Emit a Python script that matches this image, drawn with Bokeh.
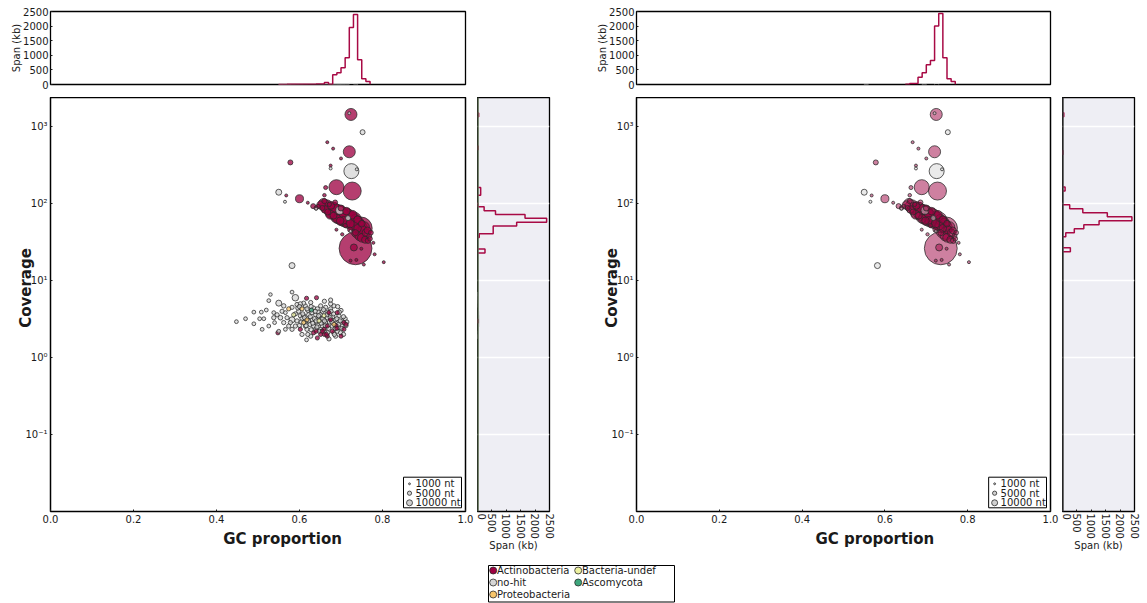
import math
import numpy as np
from bokeh.plotting import figure
from bokeh.layouts import row, column
from bokeh.models import (Range1d, FixedTicker, CustomJSTickFormatter, NumeralTickFormatter,
                          ColumnDataSource, Span, Title)
from bokeh.core.properties import value
from bokeh.embed import file_html
from bokeh.resources import INLINE

FONT = "DejaVu Sans"
TXT = "#1a1a1a"

# ---------------------------------------------------------------- data
# high-coverage contigs (both panels)
actino_gc = [0.724, 0.667, 0.681, 0.720, 0.700, 0.578, 0.675, 0.689, 0.727, 0.663, 0.660, 0.568, 0.600,
             0.620, 0.633, 0.735, 0.731, 0.723, 0.737, 0.749, 0.778, 0.781, 0.803, 0.755, 0.703, 0.689, 0.748,
             0.652, 0.655, 0.658, 0.662, 0.665, 0.668, 0.671, 0.674, 0.676, 0.679, 0.682, 0.684, 0.687, 0.690,
             0.692, 0.695, 0.698, 0.700, 0.703, 0.706, 0.708, 0.711, 0.714, 0.716, 0.719, 0.722, 0.725, 0.728,
             0.731, 0.734, 0.737, 0.740, 0.743, 0.746, 0.752, 0.756, 0.760, 0.764, 0.768, 0.772, 0.660, 0.672,
             0.645, 0.640, 0.713, 0.700, 0.686, 0.735, 0.722, 0.710, 0.750, 0.758, 0.745, 0.765, 0.770,
             0.728, 0.740, 0.750]
actino_cov = [1445, 630, 520, 473, 387, 344, 313, 164, 146, 162, 129, 128, 116,
              103, 93, 26.3, 27, 18.2, 18.6, 26, 31, 22, 17.4, 16.2, 40, 46, 48,
              96, 88, 100, 84, 92, 78, 88, 72, 95, 82, 70, 90, 76, 64,
              84, 72, 60, 78, 66, 60, 72, 66, 58, 70, 62, 55, 66, 60,
              52, 62, 54, 48, 56, 50, 46, 50, 42, 45, 38, 42, 108, 98,
              92, 88, 80, 88, 104, 42, 46, 52, 36, 34, 38, 33, 35,
              72, 62, 55]
actino_len = [40000, 2500, 2500, 40000, 2500, 7000, 2500, 62500, 90000, 4500, 3400, 2500, 17800,
              2500, 7000, 300000, 13600, 2500, 2500, 2500, 2500, 2500, 2500, 2500, 3000, 2500, 140000,
              20000, 7000, 30000, 16000, 50000, 10000, 38000, 22000, 16000, 75000, 13000, 25000, 62000, 18000,
              30000, 95000, 16000, 45000, 75000, 20000, 30000, 100000, 25000, 50000, 85000, 18000, 38000, 95000,
              22000, 30000, 75000, 16000, 25000, 50000, 20000, 30000, 16000, 13000, 7000, 6500, 7000, 5000,
              5000, 5000, 16000, 10000, 6500, 10000, 7000, 5000, 20000, 14000, 25000, 8000, 6000,
              20000, 16000, 12000]

nohit_gc = [0.720, 0.752, 0.675, 0.725, 0.738, 0.550, 0.565, 0.640, 0.697, 0.717, 0.723, 0.582]
nohit_cov = [1500, 850, 287, 265, 280, 141, 106, 86, 82, 65, 44, 15.7]
nohit_len = [2500, 7000, 2500, 62500, 2500, 10000, 2500, 2500, 17800, 7000, 2500, 10000]

# low-coverage cloud (left panel only)
cloud_nohit_gc = [0.448, 0.470, 0.490, 0.490, 0.504, 0.514, 0.508, 0.520, 0.526, 0.530, 0.510, 0.526, 0.538,
                  0.550, 0.540, 0.550, 0.566, 0.582, 0.590, 0.617, 0.660, 0.566, 0.562, 0.582, 0.594, 0.602,
                  0.627, 0.651, 0.675, 0.703, 0.683, 0.643, 0.594, 0.578, 0.570, 0.554, 0.582, 0.618, 0.691,
                  0.695, 0.639, 0.622, 0.614, 0.598, 0.634, 0.655, 0.683, 0.630, 0.663, 0.679, 0.695, 0.687,
                  0.671, 0.627, 0.606, 0.590, 0.574, 0.562, 0.558, 0.546, 0.538, 0.610, 0.639, 0.651, 0.691,
                  0.699, 0.703, 0.687, 0.667, 0.647, 0.630, 0.620, 0.643, 0.663, 0.675, 0.610, 0.590, 0.655,
                  0.634, 0.614, 0.600, 0.655, 0.710, 0.700, 0.692, 0.675, 0.582, 0.602, 0.618, 0.645, 0.668,
                  0.680, 0.660, 0.640, 0.625, 0.606, 0.596, 0.672, 0.650, 0.628,
                  0.604, 0.612, 0.616, 0.622, 0.626, 0.632, 0.636, 0.642, 0.646, 0.652, 0.656, 0.662, 0.666,
                  0.670, 0.674, 0.678, 0.682, 0.686, 0.690, 0.694, 0.698, 0.702, 0.706, 0.712, 0.608, 0.618,
                  0.628, 0.638, 0.648, 0.658, 0.668, 0.676, 0.684, 0.696, 0.706, 0.714, 0.600, 0.620, 0.640,
                  0.660]
cloud_nohit_cov = [2.93, 3.2, 3.9, 2.75, 3.2, 3.2, 3.9, 4.15, 5.5, 6.6, 2.33, 2.57, 3.84,
                   5.1, 2.85, 2.2, 2.33, 7.1, 6.0, 1.7, 5.4, 3.84, 4.7, 4.5, 4.9, 3.5,
                   5.2, 4.7, 4.3, 3.0, 2.1, 2.7, 3.0, 2.85, 3.3, 3.3, 2.33, 2.33, 2.85,
                   3.5, 3.6, 3.6, 4.7, 4.0, 4.4, 4.0, 4.7, 3.1, 2.85, 2.57, 2.45, 1.9,
                   1.75, 1.9, 2.0, 2.57, 2.57, 2.85, 4.0, 3.6, 3.3, 3.5, 2.33, 2.33, 2.2,
                   2.1, 2.57, 3.1, 3.3, 3.4, 3.84, 4.1, 4.3, 4.5, 5.0, 5.1, 3.7, 2.57,
                   2.57, 2.57, 2.62, 3.0, 3.2, 4.1, 4.6, 5.6, 3.1, 5.0, 3.0, 3.9, 3.9,
                   3.4, 2.2, 2.9, 2.7, 3.2, 4.4, 2.9, 3.6, 4.6,
                   2.9, 3.3, 2.6, 3.0, 3.4, 2.8, 3.2, 2.5, 3.5, 2.8, 3.2, 2.6, 3.6,
                   2.4, 3.3, 2.9, 3.7, 2.4, 3.2, 2.7, 3.0, 2.4, 3.4, 2.6, 3.7, 4.3,
                   2.3, 4.0, 2.2, 4.2, 2.1, 4.0, 2.0, 3.9, 2.0, 2.9, 4.6, 2.0, 3.0,
                   3.0]
cloud_nohit_len = [4000, 4000, 4000, 4000, 4000, 4000, 4000, 4000, 4000, 3500, 4000, 4000, 4000,
                   10000, 4000, 4000, 4000, 4000, 12000, 4000, 5000, 4000, 5500, 5000, 5000, 5000,
                   5000, 5000, 5000, 5000, 5000, 5000, 5000, 5000, 5000, 6000, 5000, 5000, 5000,
                   5000, 5000, 5000, 5000, 5000, 5000, 5000, 5000, 5000, 5000, 5000, 5000, 5000,
                   5000, 5000, 5000, 5000, 5000, 5000, 5000, 5000, 5000, 5000, 5000, 5000, 5000,
                   5000, 5000, 5000, 5000, 5000, 5000, 5000, 5000, 5000, 5000, 5000, 5000, 5000,
                   5000, 5000, 5000, 5000, 5000, 5000, 5000, 5000, 10000, 5000, 5000, 5000, 5000,
                   5000, 5000, 5000, 5000, 5000, 5000, 5000, 5000, 5000,
                   5000, 5000, 5000, 5000, 5000, 5000, 5000, 5000, 5000, 5000, 5000, 5000, 5000,
                   5000, 5000, 5000, 5000, 5000, 5000, 5000, 5000, 5000, 5000, 5000, 5000, 5000,
                   5000, 5000, 5000, 5000, 5000, 5000, 5000, 5000, 5000, 5000, 5000, 5000, 5000,
                   5000]

cloud_actino_gc = [0.617, 0.641, 0.691, 0.707, 0.667, 0.651, 0.634, 0.602, 0.667, 0.675, 0.671, 0.643,
                   0.548, 0.659, 0.679, 0.707, 0.688, 0.660, 0.665, 0.690, 0.700, 0.640, 0.712, 0.655]
cloud_actino_cov = [5.9, 6.0, 3.84, 2.33, 1.9, 2.0, 2.1, 2.33, 2.57, 3.1, 3.84, 1.8,
                    2.1, 2.33, 2.2, 2.85, 2.6, 2.0, 2.0, 2.4, 1.9, 2.2, 2.7, 2.2]
cloud_actino_len = [4800] * 24

cloud_proteo_gc = [0.574, 0.606, 0.610, 0.618, 0.683]
cloud_proteo_cov = [4.3, 4.3, 2.85, 3.1, 2.7]
cloud_proteo_len = [4800] * 5

cloud_bundef_gc = [0.659, 0.647, 0.586]
cloud_bundef_cov = [3.5, 3.0, 3.6]
cloud_bundef_len = [4800] * 3

cloud_asco_gc = [0.629]
cloud_asco_cov = [4.15]
cloud_asco_len = [4800]

# GC histograms (bin width 0.01, span in kb)
GC_BIN = 0.01
topL_act_gc = [0.55, 0.56, 0.57, 0.58, 0.59, 0.60, 0.61, 0.62, 0.63, 0.64, 0.65, 0.66, 0.67, 0.68,
               0.69, 0.70, 0.71, 0.72, 0.73, 0.74, 0.75, 0.76]
topL_act_span = [4, 4, 5, 8, 6, 10, 8, 10, 12, 14, 15, 70, 12, 330, 400, 570, 920, 1950, 2400, 850, 200, 100]
topL_nohit_gc = [0.55, 0.56, 0.57, 0.58, 0.59, 0.60, 0.61, 0.62, 0.63, 0.64, 0.65, 0.66, 0.67, 0.68,
                 0.69, 0.70, 0.71, 0.72, 0.73]
topL_nohit_span = [8, 10, 12, 15, 18, 20, 22, 25, 25, 22, 20, 18, 15, 10, 8, 10, 12, 40, 15]
topR_act_gc = [0.65, 0.66, 0.67, 0.68, 0.69, 0.70, 0.71, 0.72, 0.73, 0.74, 0.75, 0.76]
topR_act_span = [10, 30, 30, 250, 400, 680, 820, 2000, 2430, 920, 200, 100]
topR_nohit_gc = [0.55, 0.69, 0.72]
topR_nohit_span = [10, 15, 40]

# coverage histograms (log10 bins, span in kb)
sideL_bin = 0.05
sideL_act_lo = [0.45, 1.36, 1.56, 1.61, 1.66, 1.71, 1.76, 1.81, 1.86, 1.91, 1.96, 2.11, 2.16, 2.70, 3.13]
sideL_act_span = [15, 260, 60, 545, 545, 1360, 2400, 1650, 625, 230, 10, 110, 110, 20, 40]
sideL_nohit_lo = [0.25, 0.30, 0.35, 0.40, 0.45, 0.50, 0.55, 0.60, 0.65, 0.70, 0.75, 0.80]
sideL_nohit_span = [15, 25, 35, 50, 60, 55, 45, 35, 25, 20, 15, 10]
sideR_bin = 0.052
sideR_act_lo = [1.375, 1.570, 1.622, 1.674, 1.726, 1.778, 1.830, 1.882, 1.934, 2.165, 2.640, 3.130]
sideR_act_span = [273, 114, 410, 740, 1270, 2410, 1556, 705, 250, 90, 15, 45]

size_legend_nt = [1000, 5000, 10000]
size_legend_labels = ["1000 nt", "5000 nt", "10000 nt"]

taxa = ["Actinobacteria", "no-hit", "Proteobacteria", "Bacteria-undef", "Ascomycota"]
taxa_colors = ["#9E0142", "#D6D6D6", "#F8C56A", "#EEF2A0", "#3DA67C"]

DECADES = [0.1, 1, 10, 100, 1000]
Y_MIN, Y_MAX = 0.01, 2400
ACT_LINE = "#A80A45"
FRAME_W, FRAME_H = 415.0, 414.0


# ---------------------------------------------------------------- helpers
def diam(lengths):
    return 0.06 * np.sqrt(np.asarray(lengths, dtype=float))


def step_runs(lo, vals, w):
    """contiguous bins -> closed step outlines"""
    groups, cur, prev = [], None, None
    for l, v in sorted(zip(lo, vals)):
        if cur is None or abs(l - prev) > 1e-6:
            if cur:
                groups.append(cur)
            cur = []
        cur.append((l, l + w, v))
        prev = l + w
    if cur:
        groups.append(cur)
    out = []
    for g in groups:
        a, b = [g[0][0]], [0]
        for l, h, v in g:
            a += [l, h]
            b += [v, v]
        a.append(g[-1][1])
        b.append(0)
        out.append((a, b))
    return out


def style_axis(ax):
    ax.major_label_text_font = FONT
    ax.major_label_text_font_size = "10px"
    ax.major_label_text_color = TXT
    ax.axis_label_text_font = FONT
    ax.axis_label_text_color = TXT
    ax.minor_tick_line_color = None
    ax.major_tick_in = 2
    ax.major_tick_out = 0
    ax.major_tick_line_color = TXT
    ax.axis_line_color = None


sup_formatter = CustomJSTickFormatter(code="""
const e = Math.round(Math.log10(tick));
const sup = {"-": "\u207b", "0": "\u2070", "1": "\u00b9", "2": "\u00b2", "3": "\u00b3",
             "4": "\u2074", "5": "\u2075", "6": "\u2076", "7": "\u2077", "8": "\u2078", "9": "\u2079"};
return "10" + String(e).split("").map(c => sup[c]).join("");
""")

LMIN, LMAX = math.log10(Y_MIN), math.log10(Y_MAX)


def fy(dy):
    """px above the main frame's bottom edge -> coverage value"""
    return 10 ** (LMIN + dy / FRAME_H * (LMAX - LMIN))


def axis_title(text, offset, standoff):
    return Title(text=text, align="left", offset=offset, standoff=standoff,
                 text_font=FONT, text_font_size="15px", text_font_style="bold", text_color=TXT)


def make_top(x_range, width, border_right, a_gc, a_span, n_gc, n_span):
    p = figure(width=width, height=97, x_range=x_range, y_range=Range1d(0, 2500),
               x_axis_location=None, output_backend="svg", toolbar_location=None, tools="",
               min_border_left=50, min_border_right=border_right, min_border_top=11, min_border_bottom=13)
    p.grid.visible = False
    p.outline_line_color = "black"
    p.outline_line_width = 1.3
    p.outline_line_alpha = 1
    ax = p.yaxis[0]
    ax.ticker = FixedTicker(ticks=[0, 500, 1000, 1500, 2000, 2500])
    style_axis(ax)
    ax.axis_label = "Span (kb)"
    ax.axis_label_text_font_size = "10px"
    ax.axis_label_text_font_style = "normal"
    ax.axis_label_standoff = -2
    ax.major_label_standoff = 2
    for xs, ys in step_runs(n_gc, n_span, GC_BIN):
        p.line(xs, ys, line_color="#D8D8D8", line_width=1)
    for xs, ys in step_runs(a_gc, a_span, GC_BIN):
        p.line(xs, ys, line_color=ACT_LINE, line_width=1.5)
    return p


def make_main(x_range, y_range, width, include_cloud, alpha, xlabel_offset):
    p = figure(width=width, height=462, x_range=x_range, y_range=y_range, y_axis_type="log",
               output_backend="svg", toolbar_location=None, tools="",
               min_border_left=50, min_border_right=12, min_border_top=0, min_border_bottom=48)
    p.grid.visible = False
    p.outline_line_color = "black"
    p.outline_line_width = 1.5
    p.outline_line_alpha = 1
    xa = p.xaxis[0]
    xa.ticker = FixedTicker(ticks=[0, 0.2, 0.4, 0.6, 0.8, 1.0])
    xa.formatter = NumeralTickFormatter(format="0.0")
    style_axis(xa)
    xa.major_label_standoff = 3
    ya = p.yaxis[0]
    ya.ticker = FixedTicker(ticks=DECADES)
    ya.formatter = sup_formatter
    style_axis(ya)
    ya.major_label_standoff = 3

    # axis titles, placed along the axis as in the original figure
    p.add_layout(axis_title("GC proportion", xlabel_offset, 4), "below")
    p.add_layout(axis_title("Coverage", 183.7, -24), "left")

    groups = [(actino_gc, actino_cov, actino_len, 0), (nohit_gc, nohit_cov, nohit_len, 1)]
    if include_cloud:
        groups += [(cloud_nohit_gc, cloud_nohit_cov, cloud_nohit_len, 1),
                   (cloud_actino_gc, cloud_actino_cov, cloud_actino_len, 0),
                   (cloud_proteo_gc, cloud_proteo_cov, cloud_proteo_len, 2),
                   (cloud_bundef_gc, cloud_bundef_cov, cloud_bundef_len, 3),
                   (cloud_asco_gc, cloud_asco_cov, cloud_asco_len, 4)]
    gc, cov, ln, col = [], [], [], []
    for g, c, l, t in groups:
        gc += list(g)
        cov += list(c)
        ln += list(l)
        col += [taxa_colors[t]] * len(g)
    ln = np.asarray(ln, dtype=float)
    order = np.argsort(-ln, kind="stable")
    src = ColumnDataSource(dict(x=np.asarray(gc)[order], y=np.asarray(cov)[order],
                                s=diam(ln)[order], c=np.asarray(col)[order]))
    p.scatter("x", "y", size="s", source=src, fill_color="c", fill_alpha=alpha,
              line_color="#2a2a2a", line_alpha=0.85, line_width=0.9)

    # size legend (bottom-right corner of the frame)
    fx = lambda dx: 1.0 - dx / FRAME_W     # dx: px left of frame right
    p.quad(left=[fx(62)], right=[fx(4)], bottom=[fy(3.7)], top=[fy(34.3)],
           fill_color="white", fill_alpha=1, line_color="black", line_width=1)
    rows_dy = [27.7, 18.3, 8.7]
    leg_src = ColumnDataSource(dict(x=[fx(56)] * 3, y=[fy(d) for d in rows_dy],
                                    s=diam(size_legend_nt), t=size_legend_labels,
                                    tx=[fx(50)] * 3))
    p.scatter("x", "y", size="s", source=leg_src, fill_color="#D0D0D0", fill_alpha=1,
              line_color="#2a2a2a", line_width=0.8)
    p.text("tx", "y", text="t", source=leg_src, text_font=value(FONT), text_font_size="10px",
           text_baseline="middle", text_align="left", text_color=TXT)
    return p


def make_side(y_range, width, border_right, a_lo, a_span, w, n_lo, n_span, edge_color):
    p = figure(width=width, height=462, x_range=Range1d(0, 2500), y_range=y_range, y_axis_type="log",
               y_axis_location=None, output_backend="svg", toolbar_location=None, tools="",
               min_border_left=0, min_border_right=border_right, min_border_top=0, min_border_bottom=48)
    p.background_fill_color = "#EEEEF4"
    p.xgrid.visible = False
    p.ygrid.ticker = FixedTicker(ticks=DECADES)
    p.ygrid.grid_line_color = "white"
    p.ygrid.grid_line_width = 1.5
    p.outline_line_color = "black"
    p.outline_line_width = 1.3
    p.outline_line_alpha = 1
    xa = p.xaxis[0]
    xa.ticker = FixedTicker(ticks=[0, 500, 1000, 1500, 2000, 2500])
    style_axis(xa)
    xa.major_label_orientation = -math.pi / 2
    xa.major_label_standoff = 2
    xa.axis_label = "Span (kb)"
    xa.axis_label_text_font_size = "10px"
    xa.axis_label_text_font_style = "normal"
    xa.axis_label_standoff = -2
    if n_lo:
        for ls, vs in step_runs(n_lo, n_span, w):
            p.line(vs, [10 ** v for v in ls], line_color="#D0D0D8", line_width=1)
    for ls, vs in step_runs(a_lo, a_span, w):
        p.line(vs, [10 ** v for v in ls], line_color=ACT_LINE, line_width=1.5)
    p.add_layout(Span(location=0, dimension="height", line_color=edge_color, line_width=2.5))
    return p


# ---------------------------------------------------------------- panels
xL, yL = Range1d(0, 1), Range1d(Y_MIN, Y_MAX)
xR, yR = Range1d(0, 1), Range1d(Y_MIN, Y_MAX)

topL = make_top(xL, 586, 121, topL_act_gc, topL_act_span, topL_nohit_gc, topL_nohit_span)
topR = make_top(xR, 561, 97, topR_act_gc, topR_act_span, topR_nohit_gc, topR_nohit_span)
mainL = make_main(xL, yL, 477, True, 0.76, 172.7)
mainR = make_main(xR, yR, 476, False, 0.5, 179)
sideL = make_side(yL, 109, 37, sideL_act_lo, sideL_act_span, sideL_bin,
                  sideL_nohit_lo, sideL_nohit_span, "#5C6E50")
sideR = make_side(yR, 85, 13, sideR_act_lo, sideR_act_span, sideR_bin, [], [], "#4A4A4A")

# ---------------------------------------------------------------- taxa legend
leg = figure(width=1147, height=44, x_range=Range1d(0, 1147), y_range=Range1d(44, 0),
             x_axis_location=None, y_axis_location=None, output_backend="svg",
             toolbar_location=None, tools="", min_border=0)
leg.grid.visible = False
leg.outline_line_color = None
leg.quad(left=[488], right=[674], top=[6], bottom=[42.5], fill_color="white",
         line_color="black", line_width=1)
col_x = [492.7, 577.7]
row_y = [11, 23, 35]
lx, ly, lt, lc = [], [], [], []
for i, (name, c) in enumerate(zip(taxa, taxa_colors)):
    lx.append(col_x[i // 3])
    ly.append(row_y[i % 3])
    lt.append(name)
    lc.append(c)
lsrc = ColumnDataSource(dict(x=lx, y=ly, t=lt, c=lc, tx=[v + 3.8 for v in lx]))
leg.scatter("x", "y", size=7, source=lsrc, fill_color="c", line_color="#2a2a2a", line_width=0.8)
leg.text("tx", "y", text="t", source=lsrc, text_font=value(FONT), text_font_size="10px",
         text_baseline="middle", text_align="left", text_color=TXT)

layout = column(row(topL, topR), row(mainL, sideL, mainR, sideR), leg)

with open("out.html", "w", encoding="utf-8") as f:
    f.write(file_html(layout, INLINE))
